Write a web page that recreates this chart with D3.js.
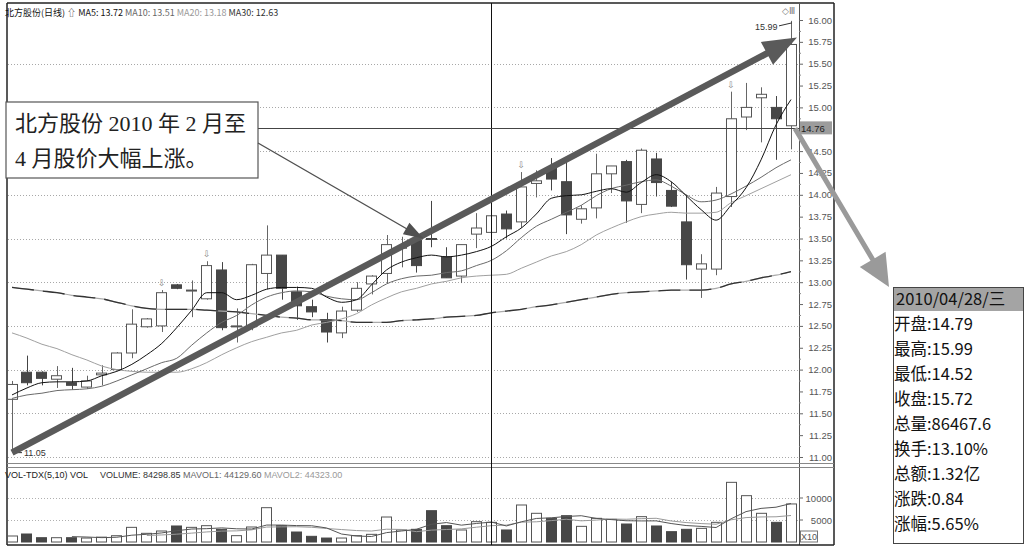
<!DOCTYPE html>
<html><head><meta charset="utf-8">
<script src="https://cdn.jsdelivr.net/npm/d3@7"></script>
<style>body{margin:0;background:#fff;}svg{display:block;}</style>
</head><body><svg id="c" width="1030" height="547"></svg>
<script>
// ---------- data ----------
const opens  = [11.66,11.97,11.97,11.89,11.85,11.80,11.94,12.00,12.19,12.49,12.50,12.97,12.90,12.81,13.14,12.49,12.49,13.10,13.31,12.89,12.72,12.57,12.42,12.68,12.98,13.10,13.39,13.48,13.50,13.29,13.07,13.55,13.57,13.78,13.69,14.13,14.31,14.15,13.72,13.85,14.24,14.38,13.89,14.41,14.05,13.69,13.15,13.15,13.98,14.89,15.11,15.00,14.79];
const highs  = [11.87,12.16,11.98,12.04,12.02,11.93,12.05,12.20,12.69,12.59,12.91,12.98,13.02,13.24,13.23,12.70,13.21,13.65,13.31,12.95,12.80,12.65,12.72,13.00,13.08,13.54,13.52,13.52,13.93,13.40,13.43,13.79,13.80,13.82,14.26,14.28,14.42,14.42,13.88,14.47,14.33,14.40,14.53,14.48,14.15,14.00,13.32,14.09,15.18,15.28,15.23,15.13,15.99];
const lows   = [11.05,11.82,11.82,11.79,11.77,11.78,11.82,11.99,12.13,12.48,12.43,12.92,12.60,12.80,12.45,12.31,12.45,12.92,12.80,12.57,12.60,12.31,12.36,12.66,12.86,12.99,13.17,13.11,13.40,13.05,12.99,13.39,13.57,13.50,13.62,13.97,14.05,13.55,13.67,13.73,14.02,13.68,13.79,13.98,13.86,13.03,12.82,13.08,13.86,14.74,14.60,14.40,14.52];
const closes = [11.83,11.85,11.90,11.93,11.82,11.87,11.96,12.19,12.52,12.58,12.88,12.93,12.91,13.19,12.48,12.50,13.20,13.31,12.93,12.73,12.66,12.43,12.67,12.93,13.07,13.43,13.40,13.19,13.49,13.05,13.43,13.62,13.76,13.61,14.09,14.16,14.18,13.77,13.84,14.24,14.33,13.93,14.51,14.14,13.87,13.20,13.21,14.02,14.87,15.00,15.15,14.87,15.72];

const ma5  = [11.71,11.79,11.85,11.86,11.86,11.87,11.93,11.98,12.06,12.17,12.30,12.48,12.68,12.88,12.88,12.80,12.85,12.92,12.94,12.94,12.93,12.83,12.77,12.80,12.97,13.14,13.23,13.28,13.31,13.29,13.31,13.35,13.41,13.52,13.62,13.78,13.96,13.99,14.00,14.04,14.07,14.03,14.14,14.23,14.15,13.99,13.83,13.71,13.88,14.08,14.40,14.80,15.09];
const ma10 = [11.67,11.71,11.73,11.76,11.77,11.78,11.81,11.87,11.94,12.01,12.08,12.13,12.28,12.42,12.54,12.62,12.74,12.83,12.88,12.90,12.89,12.84,12.81,12.80,12.88,12.98,13.04,13.07,13.08,13.11,13.13,13.19,13.25,13.36,13.51,13.64,13.72,13.80,13.88,13.99,14.07,14.11,14.15,14.17,14.10,14.00,13.92,13.94,14.01,14.10,14.20,14.31,14.40];
const ma20 = [12.42,12.36,12.29,12.24,12.17,12.11,12.04,12.00,11.98,11.97,11.97,11.97,12.01,12.08,12.17,12.25,12.32,12.37,12.42,12.45,12.51,12.54,12.58,12.64,12.74,12.82,12.89,12.93,12.98,13.01,13.05,13.07,13.08,13.09,13.16,13.23,13.30,13.35,13.43,13.54,13.62,13.69,13.75,13.78,13.80,13.79,13.79,13.80,13.91,13.99,14.07,14.15,14.23];
const ma30 = [12.94,12.92,12.90,12.88,12.85,12.83,12.81,12.77,12.73,12.70,12.69,12.69,12.69,12.68,12.67,12.66,12.64,12.62,12.60,12.59,12.57,12.57,12.56,12.54,12.54,12.54,12.56,12.57,12.58,12.60,12.61,12.62,12.65,12.67,12.69,12.72,12.74,12.77,12.80,12.83,12.86,12.88,12.89,12.90,12.91,12.91,12.91,12.93,12.98,13.01,13.05,13.08,13.12];

const volumes = [1364,1818,977,977,977,900,1100,1430,3330,1970,2500,3640,3330,3710,2880,1440,3410,7800,3710,2270,1290,900,900,1440,1740,5680,2730,2880,7120,3710,2730,4620,4470,2730,8410,6520,5380,5980,3560,5380,5150,4090,5760,3640,2350,2880,3100,4470,13560,10530,6520,4470,8647];
const mavol1 = [null,null,null,null,1220,1130,990,1080,1550,1750,2070,2570,2950,3030,3210,3000,2950,3850,3850,3730,3700,3190,1810,1360,1250,2130,2500,2890,4030,4420,3830,4210,4530,3650,4590,5350,5500,5800,5970,5360,5090,4830,4790,4800,4200,3740,3550,3290,5270,6910,7640,7910,8750];
const mavol2 = [null,null,null,null,null,null,null,null,null,1480,1600,1780,2020,2290,2480,2530,2760,3400,3440,3470,3350,3070,2830,2600,2490,2910,2850,2350,2700,2840,2980,3360,3710,3840,4510,4590,4860,5170,4810,4980,5220,5170,5300,5390,4780,4420,4190,4040,5040,5550,5690,5730,6020];

const priceTicks = [16.00,15.75,15.50,15.25,15.00,14.75,14.50,14.25,14.00,13.75,13.50,13.25,13.00,12.75,12.50,12.25,12.00,11.75,11.50,11.25,11.00];
const priceGrid = [15.5,15.0,14.5,14.0,13.5,13.0,12.5,12.0,11.5,11.0];
const volTicks = [10000,5000];
const signalDays = [10,13,34,48];
const cursorDay = 32;
const lastClose = 14.76;
const highLabel = 15.99, lowLabel = 11.05;

const headerParts = [["北方股份(日线) ","#111"],["⇧ ","#333"],["MA5: 13.72 ","#111"],["MA10: 13.51 ","#666"],["MA20: 13.18 ","#999"],["MA30: 12.63","#333"]];
const volHeader = [["VOL-TDX(5,10) VOL","#222"],["VOLUME: 84298.85 ","#333"],["MAVOL1: 44129.60 ","#666"],["MAVOL2: 44323.00","#999"]];
const calloutLines = ["北方股份 2010 年 2 月至","4 月股价大幅上涨。"];
const infoTitle = "2010/04/28/三";
const infoLabels = ["开盘","最高","最低","收盘","总量","换手","总额","涨跌","涨幅"];
const infoValues = ["14.79","15.99","14.52","15.72","86467.6","13.10%","1.32亿","0.84","5.65%"];

// ---------- chart ----------
const svg = d3.select("#c");
const n = closes.length;
const x = d3.scaleLinear().domain([0, n - 1]).range([12, 791]);
const y = d3.scaleLinear().domain([11, 16]).range([457, 20]);
const yv = d3.scaleLinear().domain([0, 10000]).range([542, 498]);
const CW = 11;
const idx = d3.range(n);
const up = i => closes[i] >= opens[i];
const LEFT = 7, AX = 799, RIGHT = 834, TOP = 3, BOT = 545, SEP = 465;

svg.append("rect").attr("width",1030).attr("height",547).attr("fill","#fff");

// grid
svg.append("g").selectAll("line").data(priceGrid).join("line")
  .attr("x1",LEFT+1).attr("x2",AX-1).attr("y1",d=>Math.round(y(d))+0.5).attr("y2",d=>Math.round(y(d))+0.5)
  .attr("stroke","#a8a8a8").attr("stroke-dasharray","1,2");
svg.append("g").selectAll("line").data(volTicks).join("line")
  .attr("x1",LEFT+1).attr("x2",AX-1).attr("y1",d=>Math.round(yv(d))+0.5).attr("y2",d=>Math.round(yv(d))+0.5)
  .attr("stroke","#b0b0b0").attr("stroke-dasharray","1,2");

// frame
const fr = svg.append("g").attr("stroke","#222").attr("fill","none");
fr.append("line").attr("x1",LEFT).attr("x2",LEFT).attr("y1",TOP).attr("y2",BOT).attr("stroke-width",1.5);
fr.append("line").attr("x1",LEFT).attr("x2",RIGHT).attr("y1",TOP).attr("y2",TOP).attr("stroke-width",1.5);
fr.append("line").attr("x1",AX+0.5).attr("x2",AX+0.5).attr("y1",TOP).attr("y2",BOT).attr("stroke","#555");
fr.append("line").attr("x1",RIGHT).attr("x2",RIGHT).attr("y1",TOP).attr("y2",BOT).attr("stroke-width",1.5);
fr.append("line").attr("x1",LEFT).attr("x2",RIGHT).attr("y1",SEP-1.5).attr("y2",SEP-1.5).attr("stroke","#888");
fr.append("line").attr("x1",LEFT).attr("x2",RIGHT).attr("y1",SEP+2.5).attr("y2",SEP+2.5).attr("stroke","#888");
fr.append("line").attr("x1",LEFT).attr("x2",RIGHT).attr("y1",BOT).attr("y2",BOT).attr("stroke-width",1.5);

// price axis
const ax = svg.append("g").attr("transform",`translate(${AX},0)`);
ax.call(d3.axisRight(y).tickValues(priceTicks).tickSize(4).tickFormat(()=>""))
  .call(g=>g.select(".domain").remove()).call(g=>g.selectAll("line").attr("stroke","#666"));
ax.append("g").call(d3.axisRight(y).tickValues(priceTicks.slice(1).map(v=>v+0.125)).tickSize(2).tickFormat(()=>""))
  .call(g=>g.select(".domain").remove()).call(g=>g.selectAll("line").attr("stroke","#888"));
svg.append("g").selectAll("text").data(priceTicks).join("text")
  .attr("x",RIGHT-2).attr("y",d=>y(d)+3.5).attr("text-anchor","end")
  .attr("font-family","Liberation Sans, Arial, sans-serif").attr("font-size",9.5).attr("fill","#555")
  .text(d=>d.toFixed(2));
// volume axis
svg.append("g").selectAll("text").data(volTicks).join("text")
  .attr("x",RIGHT-2).attr("y",d=>yv(d)+3.5).attr("text-anchor","end")
  .attr("font-family","Liberation Sans, Arial, sans-serif").attr("font-size",9.5).attr("fill","#555")
  .text(d=>d);
svg.append("g").selectAll("line").data(volTicks).join("line")
  .attr("x1",AX).attr("x2",AX+4).attr("y1",d=>yv(d)).attr("y2",d=>yv(d)).attr("stroke","#666");
svg.append("rect").attr("x",AX+1.5).attr("y",531).attr("width",17).attr("height",11).attr("fill","#fff").attr("stroke","#777");
svg.append("text").attr("x",AX+10).attr("y",540).attr("text-anchor","middle").attr("font-family","Liberation Sans, Arial, sans-serif").attr("font-size",9).attr("fill","#555").text("X10");

// candles
const cg = svg.append("g");
cg.selectAll("line.w").data(idx).join("line").attr("class","w")
  .attr("x1",i=>Math.round(x(i))+0.5).attr("x2",i=>Math.round(x(i))+0.5)
  .attr("y1",i=>y(highs[i])).attr("y2",i=>y(lows[i]))
  .attr("stroke",i=>up(i)?"#666":"#444").attr("stroke-width",1);
cg.selectAll("rect").data(idx).join("rect")
  .attr("x",i=>Math.round(x(i)-CW/2)+0.5)
  .attr("y",i=>y(Math.max(opens[i],closes[i])))
  .attr("width",CW-1)
  .attr("height",i=>Math.max(1,Math.abs(y(opens[i])-y(closes[i]))))
  .attr("fill",i=>up(i)?"#fff":"#474747")
  .attr("stroke",i=>up(i)?"#555":"#474747");

// MA lines
const line = d3.line().defined(d=>d!=null).x((d,i)=>x(i)).y(d=>y(d)).curve(d3.curveMonotoneX);
svg.append("path").attr("d",line(ma30)).attr("fill","none").attr("stroke","#aaa").attr("stroke-width",1.2);
svg.append("path").attr("d",line(ma30)).attr("fill","none").attr("stroke","#333").attr("stroke-width",1.3).attr("stroke-dasharray","22,9");
svg.append("path").attr("d",line(ma20)).attr("fill","none").attr("stroke","#a0a0a0").attr("stroke-width",1);
svg.append("path").attr("d",line(ma10)).attr("fill","none").attr("stroke","#6a6a6a").attr("stroke-width",1);
svg.append("path").attr("d",line(ma5)).attr("fill","none").attr("stroke","#111").attr("stroke-width",1);

// signal arrows
svg.append("g").selectAll("text").data(signalDays).join("text")
  .attr("x",i=>x(i)).attr("y",i=>y(highs[i])-4).attr("text-anchor","middle")
  .attr("font-family","DejaVu Sans, sans-serif").attr("font-size",9).attr("fill","#888").text("⇩");

// high/low labels
const lf = "Liberation Sans, Arial, sans-serif";
svg.append("text").attr("x",x(n-1)-36).attr("y",y(highLabel)+9).attr("font-family",lf).attr("font-size",9).attr("fill","#333").text(highLabel.toFixed(2));
svg.append("line").attr("x1",x(n-1)-12).attr("x2",x(n-1)+1).attr("y1",y(highLabel)+5).attr("y2",y(highLabel)+2).attr("stroke","#333");
svg.append("text").attr("x",x(0)+12).attr("y",y(lowLabel)+3).attr("font-family",lf).attr("font-size",9).attr("fill","#333").text(lowLabel.toFixed(2));
svg.append("line").attr("x1",x(0)+1).attr("x2",x(0)+10).attr("y1",y(lowLabel)).attr("y2",y(lowLabel)).attr("stroke","#333");
svg.append("text").attr("x",AX-17).attr("y",14).attr("font-family","DejaVu Sans, sans-serif").attr("font-size",9).attr("fill","#777").text("◇Ⅲ");

// volume bars
const vg = svg.append("g");
vg.selectAll("rect").data(idx).join("rect")
  .attr("x",i=>Math.round(x(i)-CW/2)+0.5)
  .attr("y",i=>yv(volumes[i]))
  .attr("width",CW-1)
  .attr("height",i=>yv(0)-yv(volumes[i]))
  .attr("fill",i=>up(i)?"#fff":"#474747")
  .attr("stroke",i=>up(i)?"#555":"#474747");
const vline = d3.line().defined(d=>d!=null).x((d,i)=>x(i)).y(d=>yv(d));
svg.append("path").attr("d",vline(mavol2)).attr("fill","none").attr("stroke","#999").attr("stroke-width",1);
svg.append("path").attr("d",vline(mavol1)).attr("fill","none").attr("stroke","#555").attr("stroke-width",1);

// crosshair and last price line
svg.append("line").attr("x1",Math.round(x(cursorDay))+0.5).attr("x2",Math.round(x(cursorDay))+0.5).attr("y1",TOP).attr("y2",BOT).attr("stroke","#111");
svg.append("line").attr("x1",LEFT).attr("x2",AX).attr("y1",Math.round(y(lastClose))+0.5).attr("y2",Math.round(y(lastClose))+0.5).attr("stroke","#444");
svg.append("rect").attr("x",AX+1).attr("y",y(lastClose)-7).attr("width",RIGHT-AX-3).attr("height",13).attr("fill","#9c9c9c");
svg.append("text").attr("x",AX+2).attr("y",y(lastClose)+3.5).attr("font-family",lf).attr("font-size",9.5).attr("fill","#222").text(lastClose.toFixed(2));

// headers
const h1 = svg.append("text").attr("x",5).attr("y",16).attr("font-family","Noto Sans CJK SC, Liberation Sans, sans-serif").attr("font-size",9);
headerParts.forEach(p=>h1.append("tspan").attr("fill",p[1]).text(p[0]));
const h2 = svg.append("text").attr("x",5).attr("y",478).attr("font-family","Liberation Sans, Arial, sans-serif").attr("font-size",9).attr("xml:space","preserve");
h2.append("tspan").attr("fill",volHeader[0][1]).text(volHeader[0][0]);
h2.append("tspan").attr("x",100).attr("fill",volHeader[1][1]).text(volHeader[1][0]);
h2.append("tspan").attr("fill",volHeader[2][1]).text(volHeader[2][0]);
h2.append("tspan").attr("fill",volHeader[3][1]).text(volHeader[3][0]);

// arrows helper
function arrowPoly(x1,y1,x2,y2,sw,hl,hw){
  const dx=x2-x1, dy=y2-y1, L=Math.hypot(dx,dy), ux=dx/L, uy=dy/L, px=-uy, py=ux;
  const bx=x2-ux*hl, by=y2-uy*hl;
  return [[x1+px*sw/2,y1+py*sw/2],[bx+px*sw/2,by+py*sw/2],[bx+px*hw/2,by+py*hw/2],[x2,y2],
          [bx-px*hw/2,by-py*hw/2],[bx-px*sw/2,by-py*sw/2],[x1-px*sw/2,y1-py*sw/2]];
}
// big trend arrow
svg.append("polygon").attr("points",arrowPoly(x(0),y(lowLabel),x(n-1)+6,y(15.8),6.5,34,26).join(" ")).attr("fill","#5a5a5a");

// callout box
svg.append("rect").attr("x",6).attr("y",102).attr("width",252).attr("height",76).attr("fill","#fff").attr("stroke","#555").attr("stroke-width",1.2);
svg.append("g").selectAll("text").data(calloutLines).join("text")
  .attr("x",15).attr("y",(d,i)=>131+i*35)
  .attr("font-family","Liberation Serif, Noto Sans CJK SC, serif").attr("font-size",22).attr("fill","#222")
  .attr("xml:space","preserve").text(d=>d);
// thin pointer arrow
svg.append("polygon").attr("points",arrowPoly(258,143,x(27)+7,y(13.5),1.4,20,13).join(" ")).attr("fill","#505050");

// gray arrow to info box
svg.append("polygon").attr("points",arrowPoly(x(n-1)+4,y(lastClose),889,287,5,32,30).join(" ")).attr("fill","#9a9a9a");

// info box
const ib = svg.append("g");
ib.append("rect").attr("x",893.5).attr("y",287.5).attr("width",130).attr("height",256).attr("fill","#fff").attr("stroke","#444");
ib.append("rect").attr("x",894).attr("y",288).attr("width",129).attr("height",23).attr("fill","#a4a4a4");
ib.append("text").attr("x",896).attr("y",305).attr("font-family","Noto Sans CJK SC, sans-serif").attr("font-size",16.5).attr("fill","#111").text(infoTitle);
ib.selectAll("text.r").data(infoLabels).join("text").attr("class","r")
  .attr("x",894).attr("y",(d,i)=>330+i*25)
  .attr("font-family","Noto Sans CJK SC, sans-serif").attr("font-size",16.5).attr("fill","#111")
  .text((d,i)=>d+":"+infoValues[i]);
</script></body></html>
